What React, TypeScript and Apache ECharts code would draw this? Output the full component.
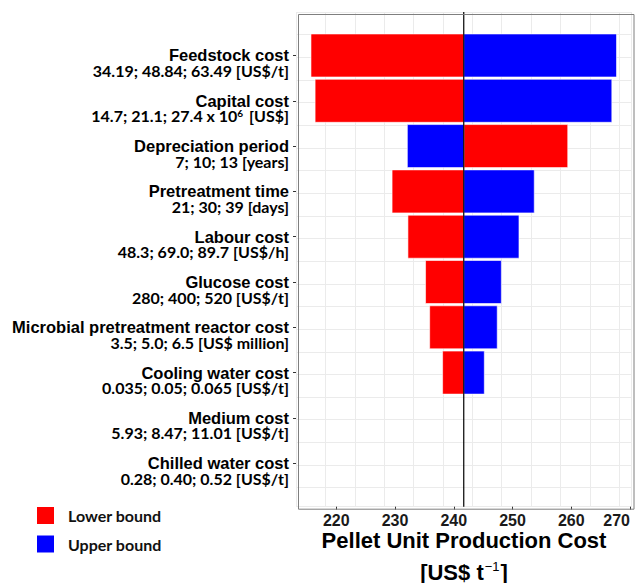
import React, { useEffect, useRef } from 'react';
import * as echarts from 'echarts';

const categories = [
  'Feedstock cost',
  'Capital cost',
  'Depreciation period',
  'Pretreatment time',
  'Labour cost',
  'Glucose cost',
  'Microbial pretreatment reactor cost',
  'Cooling water cost',
  'Medium cost',
  'Chilled water cost',
];

const ranges = [
  '34.19; 48.84; 63.49 [US$/t]',
  '14.7; 21.1; 27.4 x 10^6 [US$]',
  '7; 10; 13 [years]',
  '21; 30; 39 [days]',
  '48.3; 69.0; 89.7 [US$/h]',
  '280; 400; 520 [US$/t]',
  '3.5; 5.0; 6.5 [US$ million]',
  '0.035; 0.05; 0.065 [US$/t]',
  '5.93; 8.47; 11.01 [US$/t]',
  '0.28; 0.40; 0.52 [US$/t]',
];

const baseCost = 241.7;
const lowerBoundCost = [215.7, 216.4, 259.4, 229.5, 232.2, 235.2, 235.9, 238.1, 241.7, 241.7];
const upperBoundCost = [267.7, 266.9, 232.1, 253.7, 251.1, 248.1, 247.4, 245.2, 241.7, 241.7];
const xTickLabels = [220, 230, 240, 250, 260, 270];
const seriesNames = ['Lower bound', 'Upper bound'];

const FONT = '"Liberation Sans", Arial, Helvetica, sans-serif';
const FONT2 = 'Lato, "Open Sans", sans-serif';
const RED = '#ff0000';
const BLUE = '#0000ff';
const LINE_H = 15;

function makeBarSeries(name: string, values: number[], color: string) {
  const half = 0.475;
  return {
    type: 'custom',
    name,
    xAxisIndex: 0,
    yAxisIndex: 0,
    itemStyle: { color },
    encode: { x: 0, y: 1 },
    data: values.map((v, i) => [v, i + 1]),
    z: 3,
    renderItem: (params: any, api: any) => {
      const v = api.value(0);
      const p = api.value(1);
      const a = api.coord([baseCost, p - half]);
      const b = api.coord([v, p + half]);
      const w = Math.abs(b[0] - a[0]);
      if (w < 0.5) return { type: 'group', children: [] };
      return {
        type: 'rect',
        shape: {
          x: Math.min(a[0], b[0]),
          y: Math.min(a[1], b[1]),
          width: w,
          height: Math.abs(b[1] - a[1]),
        },
        style: { fill: color, stroke: '#ffffff', lineWidth: 0.6 },
      };
    },
  };
}

export default function App() {
  const ref = useRef<HTMLDivElement>(null);

  useEffect(() => {
    if (!ref.current) return;
    const chart = echarts.init(ref.current, undefined, { renderer: 'svg' });
    const xMin = 213.15;
    const xMax = 270.25;
    const yMin = 0.04;
    const yMax = 10.96;
    const gridLeft = 296;
    const gridTop = 12;
    const gridRight = 4.5;
    const gridBottom = 76.3;

    const option: any = {
      animation: false,
      backgroundColor: '#ffffff',
      grid: {
        left: gridLeft,
        top: gridTop,
        right: gridRight,
        bottom: gridBottom,
        containLabel: false,
        outerBoundsMode: 'none',
      },
      legend: {
        data: [
          { name: seriesNames[0], itemStyle: { color: RED } },
          { name: seriesNames[1], itemStyle: { color: BLUE } },
        ],
        orient: 'vertical',
        left: 37,
        top: 507,
        padding: 0,
        icon: 'rect',
        itemWidth: 17,
        itemHeight: 17,
        itemGap: 11.5,
        selectedMode: false,
        textStyle: {
          fontFamily: FONT2,
          fontWeight: 'bold',
          fontSize: 16,
          color: '#111111',
          padding: [0, 0, 0, 9],
        },
      },
      xAxis: [
        {
          type: 'value',
          min: xMin,
          max: xMax,
          interval: 10,
          position: 'bottom',
          axisLine: { show: false },
          axisTick: {
            show: true,
            length: 3,
            customValues: xTickLabels,
            lineStyle: { color: '#333333', width: 1 },
          },
          splitLine: { show: false },
          axisLabel: {
            customValues: xTickLabels,
            margin: 6,
            alignMaxLabel: 'right',
            fontFamily: FONT,
            fontWeight: 'bold',
            fontSize: 16,
            color: '#1a1a1a',
            formatter: (v: number) => (xTickLabels.includes(Math.round(v)) && Math.abs(v - Math.round(v)) < 1e-6 ? String(Math.round(v)) : ''),
          },
        },
        {
          type: 'value',
          min: xMin,
          max: xMax,
          interval: 5,
          position: 'bottom',
          axisLine: { show: false },
          axisTick: { show: false },
          axisLabel: { show: false },
          splitLine: { show: true, lineStyle: { color: '#ebebeb', width: 1 } },
        },
      ],
      yAxis: [
        {
          type: 'value',
          inverse: true,
          min: yMin,
          max: yMax,
          interval: 1,
          position: 'left',
          axisLine: { show: false },
          splitLine: { show: false },
          axisTick: {
            show: true,
            length: 3,
            customValues: categories.map((_, i) => i + 1),
            lineStyle: { color: '#333333', width: 1 },
          },
          axisLabel: {
            customValues: categories.map((_, i) => i + 1),
            margin: 7,
            align: 'right',
            verticalAlign: 'middle',
            padding: [LINE_H, 0, 0, 0],
            formatter: (v: number) => {
              const r = Math.round(v);
              if (Math.abs(v - r) > 1e-6 || r < 1 || r > categories.length) return '';
              const sub = ranges[r - 1].replace(/\^(\S)/, '}{sup|$1}{s|');
              return `{n|${categories[r - 1]}}\n{s|${sub}}`;
            },
            rich: {
              n: { fontFamily: FONT, fontWeight: 'bold', fontSize: 16.5, lineHeight: LINE_H, color: '#000000', align: 'right' },
              s: { fontFamily: FONT2, fontWeight: 'bold', fontSize: 16, lineHeight: LINE_H, color: '#000000', align: 'right' },
              sup: { fontFamily: FONT2, fontWeight: 'bold', fontSize: 10, lineHeight: LINE_H, color: '#000000', verticalAlign: 'top', padding: [0, 2, 0, 0] },
            },
          },
        },
        {
          type: 'value',
          inverse: true,
          min: yMin,
          max: yMax,
          interval: 0.5,
          position: 'left',
          axisLine: { show: false },
          axisTick: { show: false },
          axisLabel: { show: false },
          splitLine: { show: true, lineStyle: { color: '#ebebeb', width: 1 } },
        },
      ],
      series: [
        makeBarSeries(seriesNames[0], lowerBoundCost, RED),
        makeBarSeries(seriesNames[1], upperBoundCost, BLUE),
        {
          type: 'line',
          name: 'base',
          xAxisIndex: 0,
          yAxisIndex: 0,
          data: [
            [baseCost, yMin],
            [baseCost, yMax],
          ],
          symbol: 'none',
          silent: true,
          z: 5,
          lineStyle: { color: '#000000', width: 1.2 },
        },
      ],
      graphic: [
        {
          type: 'rect',
          left: gridLeft,
          top: gridTop,
          z: 100,
          silent: true,
          shape: { width: 636 - gridLeft - gridRight, height: 583 - gridTop - gridBottom },
          style: { fill: 'none', stroke: '#7f7f7f', lineWidth: 1 },
        },
        {
          type: 'text',
          x: 464,
          y: 540,
          z: 100,
          style: {
            text: 'Pellet Unit Production Cost',
            fontFamily: FONT,
            fontWeight: 'bold',
            fontSize: 22,
            fill: '#000000',
            align: 'center',
            verticalAlign: 'middle',
            textAlign: 'center',
            textVerticalAlign: 'middle',
          },
        },
        {
          type: 'text',
          x: 464,
          y: 572,
          z: 100,
          style: {
            text: '{a|[US$ t}{sup|−1}{a|]}',
            align: 'center',
            verticalAlign: 'middle',
            textAlign: 'center',
            textVerticalAlign: 'middle',
            rich: {
              a: { fontFamily: FONT, fontWeight: 'bold', fontSize: 22, lineHeight: 24, fill: '#000000', color: '#000000' },
              sup: { fontFamily: FONT, fontWeight: 'normal', fontSize: 13, lineHeight: 24, fill: '#000000', color: '#000000', verticalAlign: 'top', padding: [0, 1, 0, 1] },
            },
          },
        },
      ],
    };

    chart.setOption(option);
    return () => chart.dispose();
  }, []);

  return (
    <div
      ref={ref}
      style={{ position: 'fixed', left: 0, top: 0, width: 636, height: 583, background: '#fff' }}
    />
  );
}
